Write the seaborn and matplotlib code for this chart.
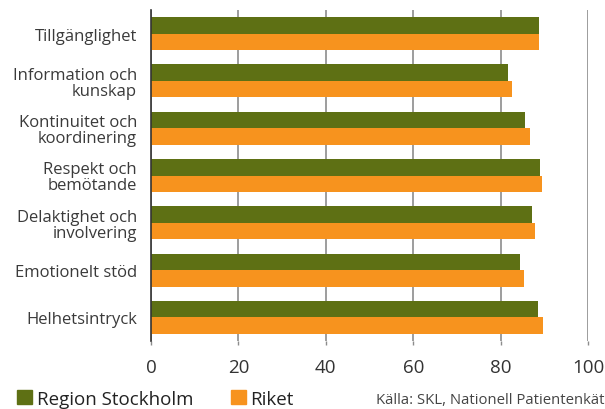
import matplotlib
matplotlib.use("Agg")
import matplotlib.pyplot as plt
import matplotlib.patches as mpatches
import seaborn as sns
import pandas as pd

categories = [
    "Tillgänglighet",
    "Information och\nkunskap",
    "Kontinuitet och\nkoordinering",
    "Respekt och\nbemötande",
    "Delaktighet och\ninvolvering",
    "Emotionelt stöd",
    "Helhetsintryck",
]
series_names = ["Region Stockholm", "Riket"]
stockholm = [88.8, 81.7, 85.6, 89.0, 87.2, 84.4, 88.5]
riket = [88.8, 82.6, 86.7, 89.5, 87.9, 85.3, 89.7]
xticks = [0, 20, 40, 60, 80, 100]
source_text = "Källa: SKL, Nationell Patientenkät"

colors = ["#5E7014", "#F7931E"]

df = pd.DataFrame({
    "kategori": categories * 2,
    "serie": [series_names[0]] * len(categories) + [series_names[1]] * len(categories),
    "varde": stockholm + riket,
})

sns.set_theme(style="white")
plt.rcParams["font.family"] = ["Open Sans", "DejaVu Sans"]

fig = plt.figure(figsize=(6.05, 4.10), dpi=100)
ax = fig.add_axes([151 / 605, 1 - 342 / 410, (588 - 151) / 605, (342 - 11) / 410])

sns.barplot(
    data=df, y="kategori", x="varde", hue="serie", order=categories,
    hue_order=series_names, palette=colors, width=0.7, orient="h",
    saturation=1, ax=ax, legend=False, linewidth=0,
)

ax.set_xlim(0, 100)
ax.set_ylim(len(categories) - 0.5, -0.5)
ax.set_xticks(xticks)
ax.set_xticklabels([str(t) for t in xticks])
ax.set_xlabel("")
ax.set_ylabel("")

ax.grid(axis="x", color="#8C8C8C", linewidth=1.2)
ax.grid(axis="y", visible=False)
ax.set_axisbelow(True)

for side in ["top", "right", "bottom"]:
    ax.spines[side].set_visible(False)
ax.spines["left"].set_color("#333333")
ax.spines["left"].set_linewidth(1.2)

ax.tick_params(axis="x", length=3, width=1, color="#8C8C8C", labelsize=13.5,
               labelcolor="#333333", pad=9, bottom=True)
ax.tick_params(axis="y", length=0, labelsize=12, labelcolor="#3A3A3A", pad=10)
for lbl in ax.get_yticklabels():
    lbl.set_linespacing(1.0)

handles = [mpatches.Patch(color=c, label=n) for c, n in zip(colors, series_names)]
fig.legend(handles=handles, loc="lower left", bbox_to_anchor=(0.0, -0.038),
           ncol=2, frameon=False, fontsize=13.5, handlelength=0.8, handleheight=0.8,
           handletextpad=0.25, columnspacing=2.0, labelcolor="#222222")
fig.text(0.622, 0.006, source_text, fontsize=10.7, color="#444444", ha="left", va="bottom")

fig.savefig("out.png", dpi=100)
